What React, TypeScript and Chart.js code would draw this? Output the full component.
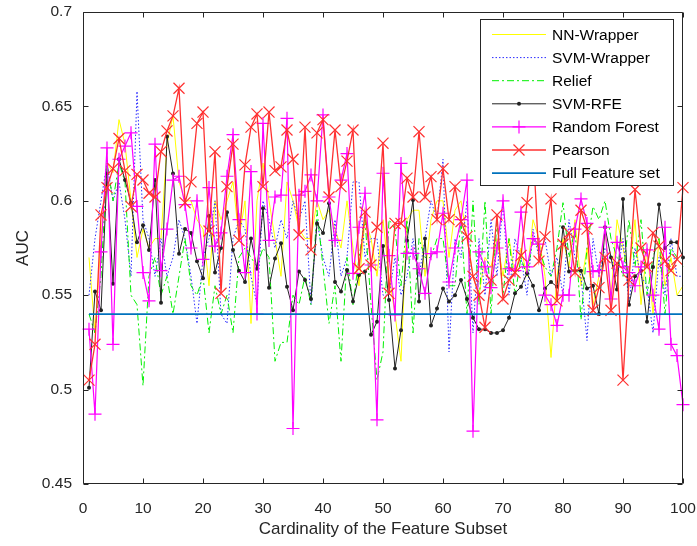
import React, { useEffect, useRef } from 'react';
import { Chart, registerables } from 'chart.js';

Chart.register(...registerables);

// ---------------- data ----------------
const cardinality: number[] = Array.from({ length: 100 }, (_, i) => i + 1);
const xTicks = [0, 10, 20, 30, 40, 50, 60, 70, 80, 90, 100];
const yTicks = [0.45, 0.5, 0.55, 0.6, 0.65, 0.7];

const nnWrapperAUC = [
  0.57, 0.53, 0.58, 0.62, 0.615, 0.643, 0.63, 0.60, 0.57, 0.585, 0.575, 0.58,
  0.58, 0.63, 0.645, 0.61, 0.60, 0.60, 0.59, 0.585, 0.555, 0.60, 0.59, 0.60, 0.61,
  0.58, 0.60, 0.535, 0.60, 0.62, 0.60, 0.58, 0.56, 0.61, 0.60, 0.585, 0.58,
  0.58, 0.60, 0.59, 0.595, 0.585, 0.575, 0.60, 0.575, 0.555, 0.59, 0.58, 0.56, 0.59,
  0.56, 0.54, 0.515, 0.59, 0.595, 0.595, 0.56, 0.59, 0.60, 0.60, 0.57, 0.595,
  0.60, 0.58, 0.56, 0.55, 0.57, 0.565, 0.58, 0.56, 0.58, 0.56, 0.575, 0.56, 0.59,
  0.58, 0.56, 0.517, 0.56, 0.58, 0.565, 0.59, 0.555, 0.575, 0.545, 0.56, 0.585,
  0.55, 0.59, 0.575, 0.56, 0.59, 0.545, 0.575, 0.54, 0.58, 0.555, 0.57, 0.55, 0.555,
];

const svmWrapperAUC = [
  0.55, 0.58, 0.60, 0.62, 0.60, 0.61, 0.59, 0.56, 0.658, 0.59, 0.58, 0.56,
  0.58, 0.56, 0.57, 0.59, 0.58, 0.56, 0.535, 0.57, 0.58, 0.60, 0.54, 0.535, 0.58,
  0.59, 0.585, 0.56, 0.545, 0.60, 0.59, 0.575, 0.59, 0.58, 0.60, 0.59, 0.60,
  0.545, 0.59, 0.57, 0.56, 0.59, 0.56, 0.57, 0.61, 0.61, 0.57, 0.58, 0.58, 0.55,
  0.55, 0.57, 0.55, 0.56, 0.58, 0.56, 0.58, 0.60, 0.59, 0.622, 0.52, 0.58,
  0.57, 0.60, 0.53, 0.58, 0.55, 0.59, 0.56, 0.60, 0.55, 0.58, 0.57, 0.55, 0.585,
  0.57, 0.58, 0.56, 0.57, 0.55, 0.59, 0.57, 0.56, 0.526, 0.58, 0.56, 0.575,
  0.57, 0.56, 0.58, 0.545, 0.575, 0.56, 0.555, 0.53, 0.57, 0.55, 0.58, 0.56, 0.56,
];

const reliefAUC = [
  0.54, 0.53, 0.56, 0.62, 0.60, 0.62, 0.61, 0.55, 0.545, 0.502, 0.56, 0.57,
  0.55, 0.56, 0.54, 0.56, 0.58, 0.555, 0.55, 0.56, 0.53, 0.555, 0.54, 0.55, 0.53,
  0.57, 0.575, 0.57, 0.565, 0.575, 0.57, 0.515, 0.525, 0.525, 0.55, 0.545, 0.56,
  0.545, 0.595, 0.565, 0.535, 0.555, 0.515, 0.57, 0.545, 0.57, 0.59, 0.545, 0.505, 0.52,
  0.59, 0.585, 0.555, 0.59, 0.53, 0.58, 0.57, 0.57, 0.58, 0.58, 0.555, 0.555,
  0.59, 0.54, 0.60, 0.545, 0.60, 0.54, 0.59, 0.55, 0.58, 0.55, 0.57, 0.56, 0.58,
  0.575, 0.565, 0.56, 0.575, 0.599, 0.57, 0.585, 0.537, 0.575, 0.597, 0.59, 0.60,
  0.58, 0.57, 0.56, 0.59, 0.565, 0.59, 0.55, 0.57, 0.58, 0.54, 0.575, 0.57, 0.565,
];

const svmRfeAUC = [
  0.501, 0.552, 0.542, 0.6145, 0.556, 0.622, 0.611, 0.599, 0.578, 0.587, 0.574, 0.611,
  0.546, 0.634, 0.6145, 0.572, 0.585, 0.583, 0.568, 0.559, 0.592, 0.562, 0.575, 0.594, 0.574,
  0.563, 0.557, 0.58, 0.564, 0.596, 0.554, 0.5695, 0.5775, 0.5545, 0.542, 0.5625, 0.558,
  0.548, 0.588, 0.583, 0.5987, 0.557, 0.552, 0.5633, 0.5466, 0.5607, 0.5625, 0.529, 0.536, 0.576,
  0.5474, 0.5112, 0.5315, 0.579, 0.6004, 0.5466, 0.58, 0.534, 0.543, 0.5536, 0.5466, 0.55,
  0.558, 0.548, 0.538, 0.532, 0.532, 0.53, 0.53, 0.5315, 0.538, 0.551, 0.5545, 0.5616, 0.555,
  0.542, 0.5536, 0.557, 0.5545, 0.586, 0.5625, 0.563, 0.563, 0.5536, 0.555, 0.54, 0.586,
  0.57, 0.553, 0.601, 0.545, 0.56, 0.563, 0.536, 0.565, 0.598, 0.575, 0.578, 0.578, 0.57,
];

const randomForestAUC = [
  0.532, 0.487, 0.573, 0.628, 0.524, 0.622, 0.629, 0.636, 0.597, 0.562, 0.547, 0.63,
  0.563, 0.585, 0.611, 0.613, 0.598, 0.575, 0.60, 0.569, 0.607, 0.576, 0.583, 0.613, 0.635,
  0.59, 0.562, 0.6155, 0.54, 0.641, 0.579, 0.602, 0.603, 0.6437, 0.4794, 0.603, 0.605,
  0.6137, 0.60, 0.6455, 0.602, 0.579, 0.611, 0.625, 0.5616, 0.586, 0.604, 0.566, 0.484, 0.6146,
  0.571, 0.5395, 0.6198, 0.5722, 0.5722, 0.564, 0.551, 0.572, 0.573, 0.5934, 0.557, 0.575,
  0.59, 0.611, 0.478, 0.573, 0.565, 0.554, 0.575, 0.60, 0.564, 0.563, 0.594, 0.565, 0.58,
  0.577, 0.55, 0.545, 0.534, 0.55, 0.55, 0.585, 0.601, 0.588, 0.5625, 0.563, 0.586,
  0.548, 0.578, 0.565, 0.562, 0.555, 0.565, 0.574, 0.55, 0.532, 0.586, 0.524, 0.518, 0.492,
];

const pearsonAUC = [
  0.505, 0.524, 0.5925, 0.607, 0.617, 0.633, 0.616, 0.597, 0.614, 0.611, 0.604, 0.602,
  0.626, 0.637, 0.645, 0.6596, 0.599, 0.61, 0.641, 0.647, 0.584, 0.626, 0.551, 0.6075, 0.63,
  0.579, 0.619, 0.639, 0.646, 0.6075, 0.647, 0.616, 0.618, 0.6375, 0.622, 0.582, 0.639,
  0.574, 0.636, 0.643, 0.602, 0.6375, 0.6075, 0.621, 0.6375, 0.564, 0.594, 0.566, 0.586, 0.6305,
  0.551, 0.588, 0.588, 0.612, 0.602, 0.6366, 0.602, 0.6128, 0.59, 0.617, 0.59, 0.6075,
  0.589, 0.581, 0.56, 0.55, 0.533, 0.558, 0.5925, 0.548, 0.558, 0.562, 0.571, 0.599, 0.63,
  0.568, 0.581, 0.601, 0.547, 0.577, 0.583, 0.562, 0.595, 0.585, 0.542, 0.554, 0.57,
  0.542, 0.567, 0.505, 0.558, 0.606, 0.575, 0.565, 0.583, 0.576, 0.568, 0.563, 0.569, 0.607,
];

const fullFeatureAUC = 0.54;

// ---------------- styles ----------------
const FONT = "'Liberation Sans', Arial, Helvetica, sans-serif";
const AXIS = '#262626';

type Marker = 'none' | 'dot' | 'plus' | 'x';
interface SeriesStyle {
  label: string;
  values: number[];
  color: string;
  width: number;
  dash: number[];
  marker: Marker;
}

const series: SeriesStyle[] = [
  { label: 'NN-Wrapper', values: nnWrapperAUC, color: '#ffff00', width: 1, dash: [], marker: 'none' },
  { label: 'SVM-Wrapper', values: svmWrapperAUC, color: '#2a2aff', width: 1, dash: [1.5, 2], marker: 'none' },
  { label: 'Relief', values: reliefAUC, color: '#00f000', width: 1, dash: [7, 3, 2, 3], marker: 'none' },
  { label: 'SVM-RFE', values: svmRfeAUC, color: '#222222', width: 1, dash: [], marker: 'dot' },
  { label: 'Random Forest', values: randomForestAUC, color: '#ff00ff', width: 1.2, dash: [], marker: 'plus' },
  { label: 'Pearson', values: pearsonAUC, color: '#ff3030', width: 1.3, dash: [], marker: 'x' },
  { label: 'Full Feature set', values: cardinality.map(() => fullFeatureAUC), color: '#0072bd', width: 1.6, dash: [], marker: 'none' },
];

function drawMarker(ctx: CanvasRenderingContext2D, m: Marker, x: number, y: number, color: string) {
  ctx.save();
  ctx.strokeStyle = color;
  ctx.fillStyle = color;
  ctx.setLineDash([]);
  ctx.lineWidth = 1.2;
  ctx.beginPath();
  if (m === 'dot') {
    ctx.arc(x, y, 2, 0, Math.PI * 2);
    ctx.fill();
  } else if (m === 'plus') {
    ctx.moveTo(x - 6.5, y); ctx.lineTo(x + 6.5, y);
    ctx.moveTo(x, y - 6.5); ctx.lineTo(x, y + 6.5);
    ctx.stroke();
  } else if (m === 'x') {
    ctx.moveTo(x - 5.5, y - 5.5); ctx.lineTo(x + 5.5, y + 5.5);
    ctx.moveTo(x - 5.5, y + 5.5); ctx.lineTo(x + 5.5, y - 5.5);
    ctx.stroke();
  }
  ctx.restore();
}

const boxPlugin = {
  id: 'matlabBox',
  afterDatasetsDraw(chart: any) {
    const { ctx, scales } = chart;
    const xs = scales.x, ys = scales.y;
    ctx.save();
    ctx.strokeStyle = AXIS;
    ctx.lineWidth = 1;
    ctx.setLineDash([]);
    const L = Math.round(xs.getPixelForValue(xTicks[0])) + 0.5;
    const R = Math.round(xs.getPixelForValue(xTicks[xTicks.length - 1])) - 0.5;
    const T = Math.round(ys.getPixelForValue(yTicks[yTicks.length - 1])) + 0.5;
    const B = Math.round(ys.getPixelForValue(yTicks[0])) - 0.5;
    ctx.beginPath();
    ctx.moveTo(L, T); ctx.lineTo(R, T); ctx.lineTo(R, B); ctx.lineTo(L, B); ctx.closePath();
    ctx.stroke();
    const tl = 5;
    ctx.beginPath();
    xTicks.forEach((v) => {
      const px = Math.round(xs.getPixelForValue(v)) + 0.5;
      ctx.moveTo(px, B); ctx.lineTo(px, B - tl);
      ctx.moveTo(px, T); ctx.lineTo(px, T + tl);
    });
    yTicks.forEach((v) => {
      const py = Math.round(ys.getPixelForValue(v)) + 0.5;
      ctx.moveTo(L, py); ctx.lineTo(L + tl, py);
      ctx.moveTo(R, py); ctx.lineTo(R - tl, py);
    });
    ctx.stroke();
    ctx.restore();
  },
};

const legendPlugin = {
  id: 'matlabLegend',
  afterDraw(chart: any) {
    const { ctx } = chart;
    ctx.save();
    const bx = 480.5, by = 19.5, bw = 193, bh = 166;
    ctx.fillStyle = '#ffffff';
    ctx.fillRect(bx, by, bw, bh);
    ctx.strokeStyle = AXIS;
    ctx.lineWidth = 1;
    ctx.strokeRect(bx, by, bw, bh);
    ctx.font = `15.5px ${FONT}`;
    ctx.textBaseline = 'middle';
    ctx.textAlign = 'left';
    series.forEach((s, i) => {
      const y = 34.5 + i * 23.1;
      ctx.save();
      ctx.strokeStyle = s.color;
      ctx.lineWidth = s.width;
      ctx.setLineDash(s.dash);
      ctx.beginPath();
      ctx.moveTo(492, y);
      ctx.lineTo(546, y);
      ctx.stroke();
      ctx.restore();
      drawMarker(ctx, s.marker, 519, y, s.color);
      ctx.fillStyle = '#000000';
      ctx.fillText(s.label, 552, y + 1);
    });
    ctx.restore();
  },
};

export default function App() {
  const canvasRef = useRef<HTMLCanvasElement | null>(null);

  useEffect(() => {
    if (!canvasRef.current) return;
    const pointStyleOf = (m: Marker) => (m === 'plus' ? 'cross' : m === 'x' ? 'crossRot' : 'circle');
    const pointRadiusOf = (m: Marker) => (m === 'plus' ? 6.5 : m === 'x' ? 7.8 : m === 'dot' ? 2 : 0);

    const datasets = series.map((s, i) => ({
      label: s.label,
      data: cardinality.map((x, k) => ({ x, y: s.values[k] })),
      borderColor: s.color,
      backgroundColor: s.color,
      borderWidth: s.width,
      borderDash: s.dash,
      pointStyle: pointStyleOf(s.marker),
      pointRadius: pointRadiusOf(s.marker),
      pointBorderWidth: s.marker === 'dot' ? 0 : 1.2,
      pointBorderColor: s.color,
      pointBackgroundColor: s.color,
      pointHoverRadius: pointRadiusOf(s.marker),
      tension: 0,
      fill: false,
      order: series.length - 1 - i,
      clip: 8,
    }));

    const chart = new Chart(canvasRef.current, {
      type: 'line',
      data: { datasets },
      options: {
        animation: false,
        responsive: false,
        maintainAspectRatio: false,
        devicePixelRatio: 1,
        layout: { padding: { left: 0, right: 14, top: 12, bottom: 0 } },
        plugins: {
          legend: { display: false },
          tooltip: { enabled: false },
        },
        scales: {
          x: {
            type: 'linear',
            min: 0,
            max: 100,
            grid: { display: false, drawTicks: false },
            border: { display: false },
            afterBuildTicks: (scale: any) => {
              scale.ticks = xTicks.map((v) => ({ value: v }));
            },
            afterFit: (scale: any) => {
              scale.height = 62;
              scale.paddingLeft = 0;
              scale.paddingRight = 0;
            },
            ticks: {
              color: AXIS,
              font: { family: FONT, size: 15.5 },
              padding: 15,
              maxRotation: 0,
              autoSkip: false,
              callback: (v: any) => String(v),
            },
            title: {
              display: true,
              text: 'Cardinality of the Feature Subset',
              color: AXIS,
              font: { family: FONT, size: 17 },
              padding: { top: 0, bottom: 6 },
            },
          },
          y: {
            type: 'linear',
            min: 0.45,
            max: 0.7,
            grid: { display: false, drawTicks: false },
            border: { display: false },
            afterBuildTicks: (scale: any) => {
              scale.ticks = yTicks.map((v) => ({ value: v }));
            },
            afterFit: (scale: any) => {
              scale.width = 83;
              scale.paddingTop = 0;
              scale.paddingBottom = 0;
            },
            ticks: {
              color: AXIS,
              font: { family: FONT, size: 15.5 },
              padding: 11,
              autoSkip: false,
              callback: (v: any) => String(Number(v)),
            },
            title: {
              display: true,
              text: 'AUC',
              color: AXIS,
              font: { family: FONT, size: 17 },
              padding: { top: 13, bottom: 0 },
            },
          },
        },
      },
      plugins: [boxPlugin, legendPlugin],
    });

    return () => chart.destroy();
  }, []);

  return (
    <div style={{ position: 'absolute', left: 0, top: 0, width: 697, height: 546, background: '#ffffff' }}>
      <canvas ref={canvasRef} width={697} height={546} style={{ width: 697, height: 546, display: 'block' }} />
    </div>
  );
}
